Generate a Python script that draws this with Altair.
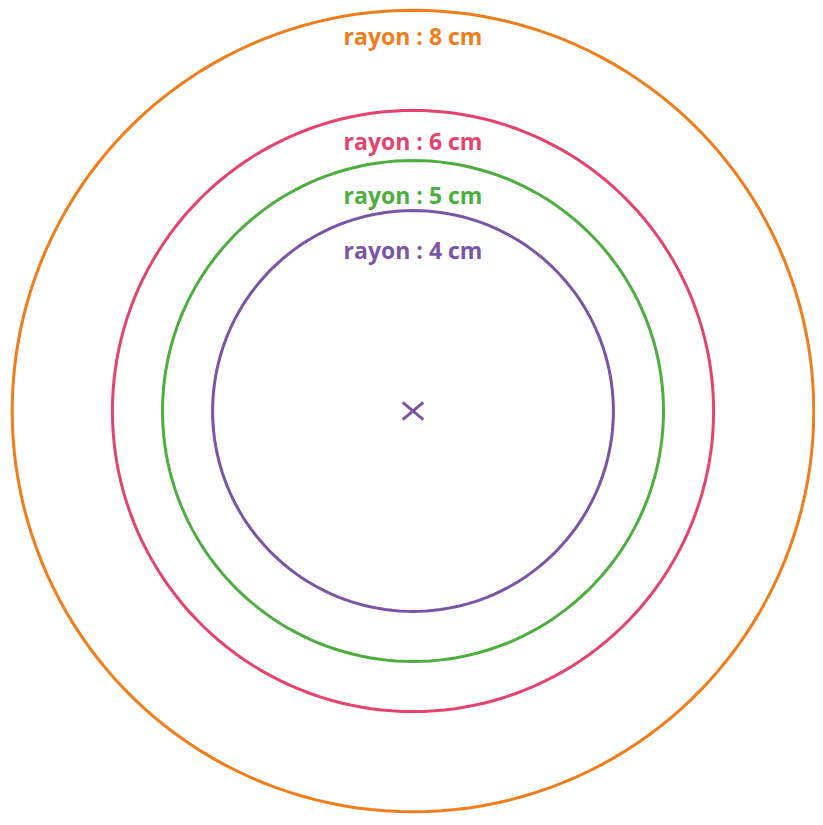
import altair as alt
import pandas as pd

# Chart values
labels = ["rayon : 8 cm", "rayon : 6 cm", "rayon : 5 cm", "rayon : 4 cm"]
radii_cm = [8, 6, 5, 4]
label_y_cm = [7.30, 5.20, 4.13, 3.03]
colors = ["#F07D1A", "#E5436E", "#4BAE3E", "#7A54A6"]

# view geometry
W, H = 807, 806
K = 50.1           # pixels per cm
CX, CY = 405, 403  # centre, in plot pixels

x_dom = [-CX / K, (W - CX) / K]
y_dom = [-(H - CY) / K, CY / K]

rings_df = pd.DataFrame({"label": labels, "r": radii_cm, "ly": label_y_cm})
angles = pd.DataFrame({"a": list(range(0, 361, 2))})
ring_pts = rings_df.merge(angles, how="cross")
center = pd.DataFrame({"cx": [0], "cy": [0]})

xs = alt.Scale(domain=x_dom, nice=False, zero=False)
ys = alt.Scale(domain=y_dom, nice=False, zero=False)
cscale = alt.Scale(domain=labels, range=colors)

rings = alt.Chart(ring_pts).transform_calculate(
    px="datum.r * cos(datum.a * PI / 180)",
    py="datum.r * sin(datum.a * PI / 180)",
).mark_line(strokeWidth=3, interpolate="linear").encode(
    x=alt.X("px:Q", scale=xs, axis=None),
    y=alt.Y("py:Q", scale=ys, axis=None),
    order=alt.Order("a:Q"),
    detail="label:N",
    color=alt.Color("label:N", scale=cscale, legend=None),
)

texts = alt.Chart(rings_df).mark_text(
    font="Open Sans", fontSize=23, fontWeight="bold", baseline="alphabetic", align="center"
).encode(
    x=alt.value(CX),
    y=alt.Y("ly:Q", scale=ys, axis=None),
    text="label:N",
    color=alt.Color("label:N", scale=cscale, legend=None),
)

cross = alt.Chart(center).mark_point(
    shape="M-1,-0.85L1,0.85M-1,0.85L1,-0.85", size=420, strokeWidth=3,
    color="#7A54A6", filled=False, opacity=1,
).encode(
    x=alt.X("cx:Q", scale=xs, axis=None),
    y=alt.Y("cy:Q", scale=ys, axis=None),
)

chart = alt.layer(rings, texts, cross).properties(
    width=W, height=H, padding=0, autosize=alt.AutoSizeParams(type="none")
).configure_view(stroke=None)

chart.save("out.html", embed_options={"renderer": "svg", "actions": False})
